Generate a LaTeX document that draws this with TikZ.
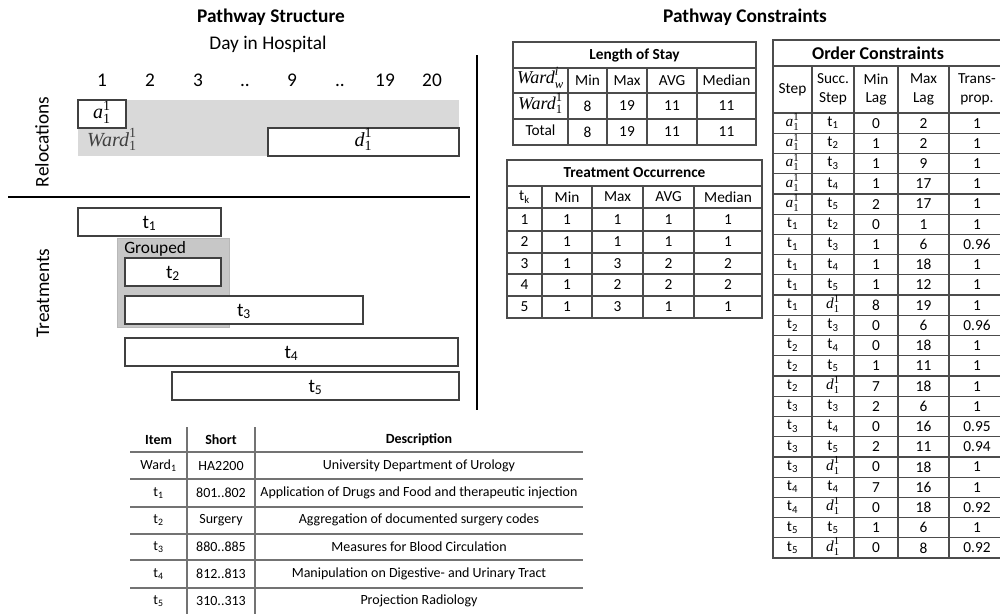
\RequirePackage{fix-cm}
\documentclass[tikz,border=0pt]{standalone}
\usepackage{amsmath}
\usepackage{fontspec}
\setmainfont{Carlito}
\newfontfamily\cambria{Liberation Serif}
\usetikzlibrary{positioning, fit, backgrounds}

\newcommand{\tk}[1]{t\textsubscript{#1}}
\newcommand{\cv}[3]{\ensuremath{\text{\cambria\itshape #1}_{\text{\cambria #2}}^{\text{\cambria #3}}}}
\newcommand{\arrA}{\cv{a}{1}{1}}
\newcommand{\depD}{\cv{d}{1}{1}}

\begin{document}
\begin{tikzpicture}[
	x=0.75pt, y=-0.75pt,
	bigtext/.style={
		font=\fontsize{14.5}{17}\selectfont,
		inner sep=0pt
	},
	heading/.style={
		font=\bfseries\fontsize{14.5}{17}\selectfont,
		inner sep=0pt
	},
	bar/.style={
		draw=black!75,
		fill=white,
		line width=0.8pt,
		inner sep=0pt
	},
	cell/.style={
		font=\fontsize{11.5}{14}\selectfont,
		inner sep=0pt,
		align=center
	},
	flatcell/.style={
		cell,
		text height=7.5pt,
		text depth=2.5pt
	},
	tabtitle/.style={
		font=\bfseries\fontsize{11.5}{14}\selectfont,
		inner sep=0pt
	},
	desccell/.style={
		font=\fontsize{10.5}{12}\selectfont,
		inner sep=0pt
	},
	tline/.style={draw=black!70, line width=0.9pt},
	dline/.style={draw=black!55, line width=1.2pt},
	sepline/.style={line width=2.2pt}
	]
	
	\useasboundingbox (0,0) rectangle (1000,614);
	
	% ======================
	% Pathway structure
	% ======================
	\node (structtitle) [heading] at (271,17) {Pathway Structure};
	\node (daytitle) [bigtext] at (268,44) {Day in Hospital};
	
	\foreach \x/\d [count=\i] in {102/1, 150/2, 198/3, 245/.., 292/9, 340/.., 385/19, 432/20}
		\node (day\i) [bigtext, anchor=base] at (\x,86.5) {\d};
	
	% Relocations
	\node (reloc) [bigtext, rotate=90] at (42,142) {Relocations};
	\node (ward) [fill=black!15, inner sep=0pt, fit={(78,100) (459,156)}] {};
	\node (arr) [bar, fit={(78,100) (126,128)}] {};
	\node (dep) [bar, fit={(268,128) (459,156)}] {};
	\node (arrlbl) [bigtext, font=\fontsize{15}{17}\selectfont, text height=9pt, text depth=3pt] at (arr.center) {\arrA};
	\node (deplbl) [bigtext, font=\fontsize{15}{17}\selectfont, text height=9pt, text depth=3pt] at (dep.center) {\depD};
	\node (wardlbl) [bigtext, font=\fontsize{15}{17}\selectfont, text=black!75, text height=9pt, text depth=3pt] at (112,142) {\cv{Ward}{1}{1}};
	
	\draw[sepline] (8,197) -- (470,197);
	\draw[sepline] (477,55) -- (477,410);
	
	% Treatments
	\node (treat) [bigtext, rotate=90] at (43,293) {Treatments};
	\node (t1) [bar, fit={(78,208) (221,236)}] {};
	\node (group) [fill=black!22, draw=black!28, inner sep=0pt, fit={(117,238) (229,327)}] {};
	\node (grouplbl) [bigtext, anchor=base west, font=\fontsize{13}{15}\selectfont] at (124,253) {Grouped};
	\node (t2) [bar, fit={(125,258) (221,286)}] {};
	\node (t3) [bar, fit={(125,296) (363,324)}] {};
	\node (t4) [bar, fit={(125,338) (458,366)}] {};
	\node (t5) [bar, fit={(172,372) (459,400)}] {};
	\foreach \k in {1,...,5}
		\node (t\k lbl) [bigtext, anchor=base] at ([yshift=-4.5pt]t\k.center) {\tk{\k}};
	
	% ======================
	% Item description table
	% ======================
	\foreach \y in {452,479,507,534,560,588}
		\draw[dline] (130,\y) -- (583,\y);
	\draw[dline] (187,427) -- (187,614);
	\draw[dline] (255,427) -- (255,614);
	
	\node (hitem) [desccell, font=\bfseries\fontsize{10.5}{12}\selectfont] at (158.5,440) {Item};
	\node (hshort) [desccell, font=\bfseries\fontsize{10.5}{12}\selectfont] at (221,440) {Short};
	\node (hdesc) [desccell, font=\bfseries\fontsize{10.5}{12}\selectfont] at (419,440) {Description};
	
	\foreach \yc/\a/\b/\c [count=\r] in {
		466/{Ward\textsubscript{1}}/HA2200/University Department of Urology,
		493/{\tk{1}}/801..802/Application of Drugs and Food and therapeutic injection,
		520/{\tk{2}}/Surgery/Aggregation of documented surgery codes,
		547/{\tk{3}}/880..885/Measures for Blood Circulation,
		574/{\tk{4}}/812..813/Manipulation on Digestive- and Urinary Tract,
		601/{\tk{5}}/310..313/Projection Radiology} {
		\node (item\r) [desccell] at (158.5,\yc) {\a};
		\node (short\r) [desccell] at (221,\yc) {\b};
		\node (desc\r) [desccell] at (419,\yc) {\c};
	}
	
	% ======================
	% Pathway constraints
	% ======================
	\node (consttitle) [heading] at (745,17) {Pathway Constraints};
	
	% Length of stay
	\draw[tline] (513,42) rectangle (756,145);
	\foreach \y in {68,93,119}
		\draw[tline] (513,\y) -- (756,\y);
	\foreach \x in {568,607,647,697}
		\draw[tline] (\x,68) -- (\x,145);
	\node (lostitle) [tabtitle] at (634.5,55) {Length of Stay};
	\foreach \yc/\a/\b/\c/\d/\e [count=\r] in {
		80.5/{\fontsize{13.5}{15}\selectfont\cv{Ward}{\itshape w}{\itshape i}}/Min/Max/AVG/Median,
		106/{\fontsize{13.5}{15}\selectfont\cv{Ward}{1}{1}}/8/19/11/11,
		132/Total/8/19/11/11} {
		\node (los-\r-1) [flatcell] at (540.5,\yc) {\a};
		\node (los-\r-2) [cell] at (587.5,\yc) {\b};
		\node (los-\r-3) [cell] at (627,\yc) {\c};
		\node (los-\r-4) [cell] at (672,\yc) {\d};
		\node (los-\r-5) [cell] at (726.5,\yc) {\e};
	}
	
	% Treatment occurrence
	\draw[tline] (507,160) rectangle (762,318);
	\foreach \y in {186,208,231,253,274,296}
		\draw[tline] (507,\y) -- (762,\y);
	\foreach \x in {542,592,643,694}
		\draw[tline] (\x,186) -- (\x,318);
	\node (octitle) [tabtitle] at (634.5,173) {Treatment Occurrence};
	\foreach \yc/\a/\b/\c/\d/\e [count=\r] in {
		197/{\tk{k}}/Min/Max/AVG/Median,
		219.5/1/1/1/1/1,
		242/2/1/1/1/1,
		263.5/3/1/3/2/2,
		285/4/1/2/2/2,
		307/5/1/3/1/1} {
		\node (occ-\r-1) [cell] at (524.5,\yc) {\a};
		\node (occ-\r-2) [cell] at (567,\yc) {\b};
		\node (occ-\r-3) [cell] at (617.5,\yc) {\c};
		\node (occ-\r-4) [cell] at (668.5,\yc) {\d};
		\node (occ-\r-5) [cell] at (728,\yc) {\e};
	}
	
	% Order constraints
	\draw[tline] (1000,40) -- (773,40) -- (773,558) -- (1000,558);
	\draw[tline] (773,66) -- (1000,66);
	\foreach \k in {0,...,21}
		\draw[tline] (773,{113+20.23*\k}) -- (1000,{113+20.23*\k});
	\foreach \x in {812,854,898,949}
		\draw[tline] (\x,66) -- (\x,558);
	\node (ordtitle) [tabtitle, font=\bfseries\fontsize{13.5}{16}\selectfont] at (878,53) {Order Constraints};
	\node (h-step) [cell] at (792.5,89.5) {Step};
	\node (h-succ) [cell] at (833,89.5) {Succ.\\Step};
	\node (h-min) [cell] at (876,89.5) {Min\\Lag};
	\node (h-max) [cell] at (923.5,89.5) {Max\\Lag};
	\node (h-trans) [cell] at (977,89.5) {Trans-\\prop.};
	\foreach \a/\b/\c/\d/\e [count=\r] in {
		\arrA/{\tk{1}}/0/2/1,
		\arrA/{\tk{2}}/1/2/1,
		\arrA/{\tk{3}}/1/9/1,
		\arrA/{\tk{4}}/1/17/1,
		\arrA/{\tk{5}}/2/17/1,
		{\tk{1}}/{\tk{2}}/0/1/1,
		{\tk{1}}/{\tk{3}}/1/6/0.96,
		{\tk{1}}/{\tk{4}}/1/18/1,
		{\tk{1}}/{\tk{5}}/1/12/1,
		{\tk{1}}/\depD/8/19/1,
		{\tk{2}}/{\tk{3}}/0/6/0.96,
		{\tk{2}}/{\tk{4}}/0/18/1,
		{\tk{2}}/{\tk{5}}/1/11/1,
		{\tk{2}}/\depD/7/18/1,
		{\tk{3}}/{\tk{3}}/2/6/1,
		{\tk{3}}/{\tk{4}}/0/16/0.95,
		{\tk{3}}/{\tk{5}}/2/11/0.94,
		{\tk{3}}/\depD/0/18/1,
		{\tk{4}}/{\tk{4}}/7/16/1,
		{\tk{4}}/\depD/0/18/0.92,
		{\tk{5}}/{\tk{5}}/1/6/1,
		{\tk{5}}/\depD/0/8/0.92} {
		\pgfmathsetmacro\yc{113+20.23*(\r-0.5)}
		\node (ord-\r-1) [flatcell] at (792.5,\yc) {\a};
		\node (ord-\r-2) [flatcell] at (833,\yc) {\b};
		\node (ord-\r-3) [cell] at (876,\yc) {\c};
		\node (ord-\r-4) [cell] at (923.5,\yc) {\d};
		\node (ord-\r-5) [cell] at (977,\yc) {\e};
	}
	
\end{tikzpicture}
\end{document}
